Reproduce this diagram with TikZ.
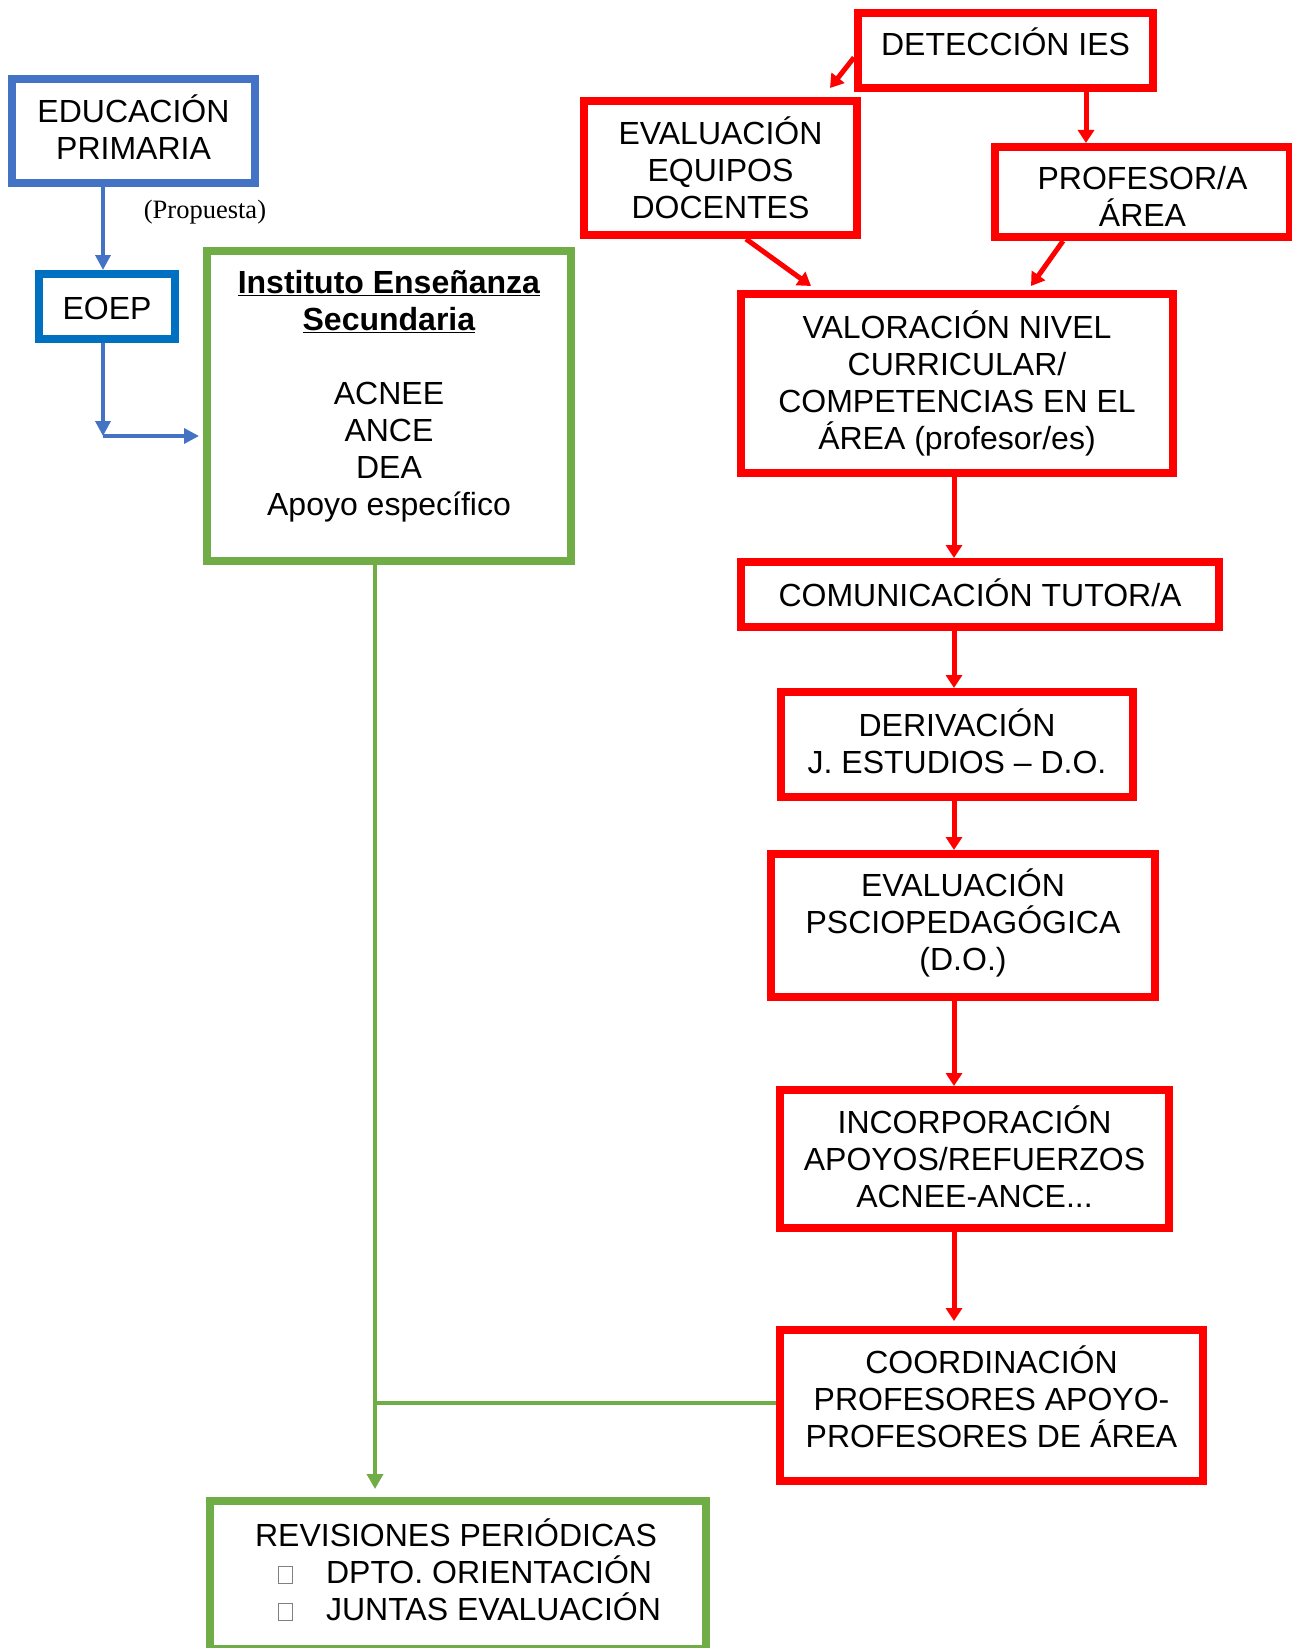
\documentclass[tikz,border=0pt]{standalone}
\usepackage{fontspec}
\setmainfont{Liberation Sans}
\newfontfamily\propfont{Liberation Serif}
\usetikzlibrary{arrows.meta,calc}
\definecolor{azul}{HTML}{4472C4}
\definecolor{azuleoep}{HTML}{0070C0}
\definecolor{verde}{HTML}{70AD47}
\definecolor{rojo}{HTML}{FF0000}
% casilla vacia de la lista
\newcommand\casilla{{\color{gray}\setlength\fboxsep{0pt}\setlength\fboxrule{1pt}\fbox{\rule{0pt}{16pt}\hspace{13pt}}}}
% puntales para subir o bajar el texto en la caja
\newcommand\bajo[1]{\rule[-#1]{0pt}{#1}}
\newcommand\alto[1]{\rule{0pt}{#1}}

\begin{document}
\begin{tikzpicture}[x=1pt, y=-1pt,
  caja/.style={draw, line width=8pt, inner sep=0pt, align=center, font=\fontsize{32}{37}\selectfont},
  roja/.style={caja, draw=rojo},
  flecharoja/.style={draw=rojo, line width=5pt, -{Triangle[length=13pt,width=16pt]}},
  flechaazul/.style={draw=azul, line width=3.5pt, -{Triangle[length=15pt,width=15pt]}},
  lineaverde/.style={draw=verde, line width=3.5pt}]
\useasboundingbox (0,0) rectangle (1291,1648);

% lado izquierdo
\node[caja, draw=azul, minimum width=243pt, minimum height=104pt] (edu) at (133.5,131) {EDUCACIÓN\\PRIMARIA\bajo{8pt}};
\node[font=\propfont\fontsize{26.5}{30}\selectfont] (prop) at (205,212) {(Propuesta)};
\node[caja, draw=azuleoep, minimum width=136pt, minimum height=65pt] (eoep) at (107,306.5) {\alto{27pt}EOEP};
\node[caja, draw=verde, minimum width=364pt, minimum height=310pt] (ies) at (389,406)
  {\underline{\textbf{Instituto Enseñanza}}\\\underline{\textbf{Secundaria}}\\[37pt]ACNEE\\ANCE\\DEA\\Apoyo específico\bajo{27pt}};
\node[caja, draw=verde, minimum width=496pt, minimum height=148pt, align=left] (rev) at (458,1575)
  {REVISIONES PERIÓDICAS\\\hspace*{23pt}\casilla\hspace{33pt}DPTO. ORIENTACIÓN\\\hspace*{23pt}\casilla\hspace{33pt}JUNTAS EVALUACIÓN\bajo{11pt}};

% lado derecho
\node[roja, minimum width=295pt, minimum height=75pt] (det) at (1005.5,50.5) {DETECCIÓN IES\bajo{17pt}};
\node[roja, minimum width=273pt, minimum height=134pt] (eval) at (720.5,168) {EVALUACIÓN\\EQUIPOS\\DOCENTES};
\node[roja, minimum width=295pt, minimum height=90pt] (prof) at (1142.5,192) {\alto{31.5pt}PROFESOR/A\\ÁREA};
\node[roja, minimum width=432pt, minimum height=179pt] (val) at (957,383.5) {VALORACIÓN NIVEL\\CURRICULAR/\\COMPETENCIAS EN EL\\ÁREA (profesor/es)};
\node[roja, minimum width=478pt, minimum height=65pt] (com) at (980,594.5) {COMUNICACIÓN TUTOR/A\bajo{4pt}};
\node[roja, minimum width=352pt, minimum height=105pt] (der) at (957,744.5) {DERIVACIÓN\\J. ESTUDIOS -- D.O.\bajo{6pt}};
\node[roja, minimum width=384pt, minimum height=143pt] (evp) at (963,925.5) {EVALUACIÓN\\PSCIOPEDAGÓGICA\\(D.O.)\bajo{11pt}};
\node[roja, minimum width=389pt, minimum height=138pt] (inc) at (974.5,1159) {INCORPORACIÓN\\APOYOS/REFUERZOS\\ACNEE-ANCE...\bajo{4pt}};
\node[roja, minimum width=423pt, minimum height=151pt] (coord) at (991.5,1405.5) {COORDINACIÓN\\PROFESORES APOYO-\\PROFESORES DE ÁREA\bajo{17pt}};

% flechas azules
\coordinate (ejeazul) at (103,0);
\coordinate (codo) at (103,436);
\draw[flechaazul] (edu.south -| ejeazul) -- (eoep.north -| ejeazul);
\draw[flechaazul] (eoep.south -| ejeazul) -- (codo);
\draw[flechaazul, shorten >=4pt] (codo) -- (ies.west |- codo);

% flechas rojas
\draw[flecharoja] ($(det.west)+(0,7)$) -- ($(eval.north east)+(-31,-9)$);
\draw[flecharoja] ($(det.south)+(80.5,0)$) -- ($(prof.north)+(-56.5,0)$);
\draw[flecharoja] ($(eval.south)+(25.5,0)$) -- ($(val.north)+(-146,-4)$);
\draw[flecharoja] ($(prof.south)+(-79.5,0)$) -- ($(val.north)+(74,-4)$);
\coordinate (ejerojo) at (954,0);
\draw[flecharoja] (val.south -| ejerojo) -- (com.north -| ejerojo);
\draw[flecharoja] (com.south -| ejerojo) -- (der.north -| ejerojo);
\draw[flecharoja] (der.south -| ejerojo) -- (evp.north -| ejerojo);
\draw[flecharoja] (evp.south -| ejerojo) -- (inc.north -| ejerojo);
\draw[flecharoja, shorten >=5pt] (inc.south -| ejerojo) -- (coord.north -| ejerojo);

% lineas verdes
\coordinate (nudo) at (375,1403);
\draw[lineaverde] (ies.south -| nudo) -- (nudo);
\draw[lineaverde] (coord.west |- nudo) -- (nudo);
\draw[lineaverde, -{Triangle[length=15pt,width=16pt]}, shorten >=8pt] (nudo) -- (rev.north -| nudo);

\end{tikzpicture}
\end{document}
